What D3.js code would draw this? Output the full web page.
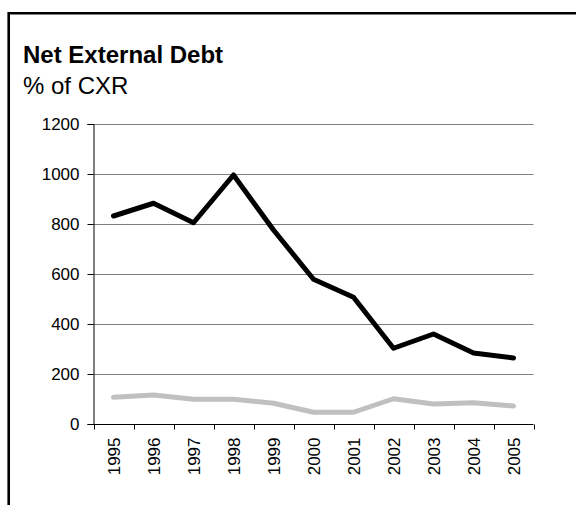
<!DOCTYPE html>
<html>
<head>
<meta charset="utf-8">
<script src="https://cdn.jsdelivr.net/npm/d3@7"></script>
<style>
  html, body { margin: 0; padding: 0; background: #fff; }
  svg { display: block; font-family: Arial, "Liberation Sans", sans-serif; }
</style>
</head>
<body>
<script>
// Net external debt as % of current external receipts
const years = ["1995", "1996", "1997", "1998", "1999", "2000", "2001", "2002", "2003", "2004", "2005"];
const seriesMain = [832, 883, 805, 996, 776, 579, 507, 303, 360, 284, 264];
const seriesPeer = [107, 116, 99, 99, 83, 47, 47, 101, 80, 85, 72];
const yTicks = [0, 200, 400, 600, 800, 1000, 1200];

const width = 576, height = 505;
const margin = { left: 93.5, right: 42.5, top: 124, bottom: 81 };

const svg = d3.select("body").append("svg")
  .attr("width", width).attr("height", height);

// Frame: top and left rules
svg.append("line").attr("x1", 8.5).attr("x2", width).attr("y1", 13.3).attr("y2", 13.3)
  .attr("stroke", "#000").attr("stroke-width", 2.6);
svg.append("line").attr("x1", 8.7).attr("x2", 8.7).attr("y1", 12).attr("y2", height)
  .attr("stroke", "#000").attr("stroke-width", 2.6);

// Titles
svg.append("text").attr("x", 23).attr("y", 63).attr("font-size", 24).attr("font-weight", "bold")
  .attr("fill", "#000").text("Net External Debt");
svg.append("text").attr("x", 23).attr("y", 94).attr("font-size", 24)
  .attr("fill", "#000").text("% of CXR");

const x = d3.scaleBand().domain(years)
  .range([margin.left, width - margin.right]);
const y = d3.scaleLinear().domain([0, 1200])
  .range([height - margin.bottom, margin.top]);

// Horizontal gridlines
svg.append("g").selectAll("line").data(yTicks.filter(d => d > 0)).join("line")
  .attr("x1", margin.left).attr("x2", width - margin.right)
  .attr("y1", d => Math.round(y(d)) + 0.5).attr("y2", d => Math.round(y(d)) + 0.5)
  .attr("stroke", "#808080").attr("stroke-width", 1.2);

// Y axis
const yAxis = svg.append("g")
  .attr("transform", `translate(${margin.left},0)`)
  .call(d3.axisLeft(y).tickValues(yTicks).tickSize(6).tickPadding(8).tickFormat(d3.format("d")));
yAxis.selectAll("path, line").attr("stroke", "#000");
yAxis.selectAll("text").attr("font-size", 17).attr("fill", "#000")
  .attr("font-family", "Arial, 'Liberation Sans', sans-serif");

// X axis with ticks at category boundaries
const xAxisY = Math.round(y(0)) + 0.5;
const xAxis = svg.append("g").attr("transform", `translate(0,${xAxisY})`);
xAxis.append("line").attr("x1", margin.left).attr("x2", width - margin.right)
  .attr("stroke", "#000");
const bounds = years.map(d => x(d)).concat([x(years[years.length - 1]) + x.bandwidth()]);
xAxis.selectAll("line.tick").data(bounds).join("line").attr("class", "tick")
  .attr("x1", d => Math.round(d) + 0.5).attr("x2", d => Math.round(d) + 0.5)
  .attr("y1", 0).attr("y2", 5).attr("stroke", "#000");
xAxis.selectAll("text").data(years).join("text")
  .attr("transform", d => `translate(${x(d) + x.bandwidth() / 2 + 6},13) rotate(-90)`)
  .attr("text-anchor", "end")
  .attr("font-size", 17).attr("fill", "#000")
  .text(d => d);

// Series lines
const line = d3.line()
  .x((d, i) => x(years[i]) + x.bandwidth() / 2)
  .y(d => y(d));

svg.append("path").datum(seriesPeer)
  .attr("d", line).attr("fill", "none")
  .attr("stroke", "#c0c0c0").attr("stroke-width", 5)
  .attr("stroke-linejoin", "round").attr("stroke-linecap", "round");

svg.append("path").datum(seriesMain)
  .attr("d", line).attr("fill", "none")
  .attr("stroke", "#000").attr("stroke-width", 5)
  .attr("stroke-linejoin", "round").attr("stroke-linecap", "round");
</script>
</body>
</html>
